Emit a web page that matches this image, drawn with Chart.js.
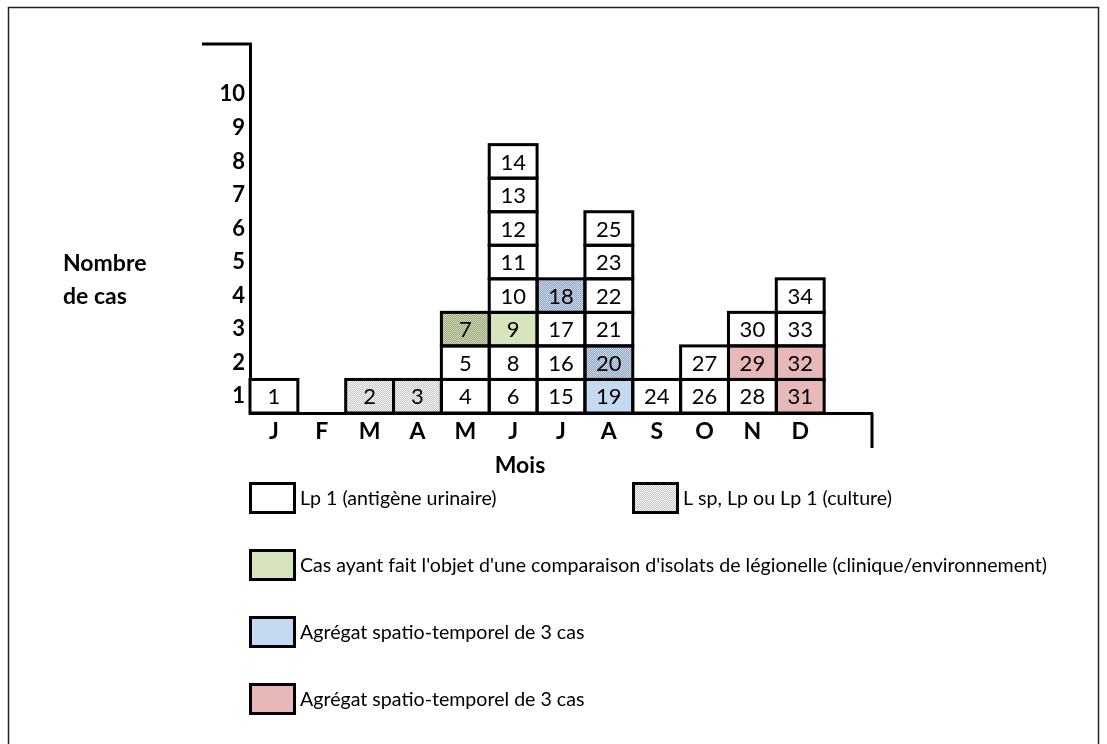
<!DOCTYPE html>
<html><head><meta charset="utf-8">
<script src="https://cdn.jsdelivr.net/npm/chart.js@4"></script>
<style>html,body{margin:0;padding:0;background:#fff;} #wrap{width:1107px;height:744px;position:relative;}</style>
</head><body><div id="wrap"><canvas id="c" width="1107" height="744"></canvas></div>
<script>
// ---- data ----
const months = ['J','F','M','A','M','J','J','A','S','O','N','D',''];
const caseNumbers = [[1],[],[2],[3],[4,5,7],[6,8,9,10,11,12,13,14],[15,16,17,18],[19,20,21,22,23,25],[24],[26,27],[28,29,30],[31,32,33,34],[]];
const caseTypes = [['U'],[],['C'],['C'],['U','U','Gs'],['U','U','G','U','U','U','U','U'],['U','U','U','Bs'],['B','Bs','U','U','U','U'],['U'],['U','U'],['U','P','U'],['P','P','U','U'],[]];
const yTickLabels = ['1','2','3','4','5','6','7','8','9','10'];
const legendLabels = ['Lp 1 (antigène urinaire)','L sp, Lp ou Lp 1 (culture)',"Cas ayant fait l'objet d'une comparaison d'isolats de légionelle (clinique/environnement)",'Agrégat spatio-temporel de 3 cas','Agrégat spatio-temporel de 3 cas'];
const legendTypes = ['U','C','G','B','P'];
const yTitleLines = ['Nombre','de cas'];
const xTitle = 'Mois';

// ---- styles ----
const FONT = 'Lato';
function stipple(c1, c2){
  const p = document.createElement('canvas'); p.width = 2; p.height = 2;
  const g = p.getContext('2d');
  g.fillStyle = c1; g.fillRect(0,0,2,2);
  g.fillStyle = c2; g.fillRect(1,0,1,1); g.fillRect(0,1,1,1);
  return document.getElementById('c').getContext('2d').createPattern(p,'repeat');
}
const fills = {
  U: '#ffffff',
  C: stipple('#f6f6f6','#c6c6c6'),
  G: '#d8e4bc',
  Gs: stipple('#cdd9b0','#9aa87c'),
  B: '#c5d9f1',
  Bs: stipple('#c8d8ee','#8fa7c8'),
  P: '#e6b8b7'
};

const maxLevel = Math.max(...caseNumbers.map(a => a.length));
const datasets = [];
for (let k = 0; k < maxLevel; k++) {
  datasets.push({
    data: caseNumbers.map(a => a.length > k ? 1 : null),
    backgroundColor: caseTypes.map(t => t[k] ? fills[t[k]] : 'rgba(0,0,0,0)'),
    borderWidth: 0,
    barPercentage: 1,
    categoryPercentage: 1
  });
}

const cellPlugin = {
  id: 'cells',
  afterDatasetsDraw(chart) {
    const ctx = chart.ctx;
    ctx.save();
    ctx.lineWidth = 3; ctx.strokeStyle = '#000';
    ctx.fillStyle = '#000';
    ctx.font = '22px ' + FONT;
    ctx.textAlign = 'center'; ctx.textBaseline = 'middle';
    datasets.forEach((ds, k) => {
      const meta = chart.getDatasetMeta(k);
      meta.data.forEach((el, m) => {
        if (caseNumbers[m][k] === undefined) return;
        const p = el.getProps(['x','y','base','width'], true);
        ctx.strokeRect(p.x - p.width/2, p.y, p.width, p.base - p.y);
      });
    });
    datasets.forEach((ds, k) => {
      const meta = chart.getDatasetMeta(k);
      meta.data.forEach((el, m) => {
        if (caseNumbers[m][k] === undefined) return;
        const p = el.getProps(['x','y','base','width'], true);
        ctx.fillText(String(caseNumbers[m][k]), p.x, (p.y + p.base)/2 + 1);
      });
    });
    ctx.restore();
  },
  afterDraw(chart) {
    const ctx = chart.ctx, a = chart.chartArea;
    ctx.save();
    ctx.strokeStyle = '#000'; ctx.lineWidth = 3;
    ctx.beginPath();
    ctx.moveTo(202, a.top); ctx.lineTo(a.left + 1.5, a.top);
    ctx.moveTo(a.right, a.bottom); ctx.lineTo(a.right, a.bottom + 35);
    ctx.stroke();
    // titles
    ctx.fillStyle = '#000';
    ctx.font = 'bold 23px ' + FONT;
    ctx.textBaseline = 'middle'; ctx.textAlign = 'left';
    ctx.fillText(yTitleLines[0], 63, 264);
    ctx.fillText(yTitleLines[1], 63, 297);
    ctx.textAlign = 'center';
    ctx.fillText(xTitle, 520, 466);
    // legend
    const pos = [[249,498],[632,498],[249,565],[249,632],[249,699]];
    ctx.font = '19.6px ' + FONT; ctx.textAlign = 'left';
    legendLabels.forEach((lab, i) => {
      const [x, y] = pos[i];
      ctx.fillStyle = fills[legendTypes[i]];
      ctx.fillRect(x, y - 16, 47, 32);
      ctx.lineWidth = 3; ctx.strokeStyle = '#000';
      ctx.strokeRect(x + 1.5, y - 14.5, 44, 29);
      ctx.fillStyle = '#000';
      ctx.fillText(lab, x + 51, y + 1);
    });
    // frame
    ctx.lineWidth = 1.5; ctx.strokeStyle = '#222';
    ctx.strokeRect(8.5, 7.5, 1090, 745);
    ctx.restore();
  }
};

Chart.defaults.font.family = FONT;
new Chart(document.getElementById('c'), {
  type: 'bar',
  data: { labels: months, datasets },
  options: {
    responsive: false,
    animation: false,
    layout: { padding: { left: 190, right: 235, top: 44, bottom: 271 } },
    plugins: { legend: { display: false }, tooltip: { enabled: false } },
    scales: {
      x: {
        stacked: true,
        grid: { display: false, drawTicks: false },
        border: { display: true, color: '#000', width: 3 },
        ticks: { color: '#000', font: { family: FONT, weight: 'bold', size: 23 }, padding: 5, maxRotation: 0, autoSkip: false },
        afterFit(s) { s.height = 60; }
      },
      y: {
        stacked: true, min: 0, max: 11,
        grid: { display: false, drawTicks: false },
        border: { display: true, color: '#000', width: 3 },
        afterBuildTicks(s) { s.ticks = yTickLabels.map((_, i) => ({ value: i + 0.5 })); },
        ticks: { color: '#000', font: { family: FONT, weight: 'bold', size: 22 }, padding: 5, autoSkip: false,
                 callback: (v, i) => yTickLabels[i] },
        afterFit(s) { s.width = 60; }
      }
    }
  },
  plugins: [cellPlugin]
});
</script></body></html>
